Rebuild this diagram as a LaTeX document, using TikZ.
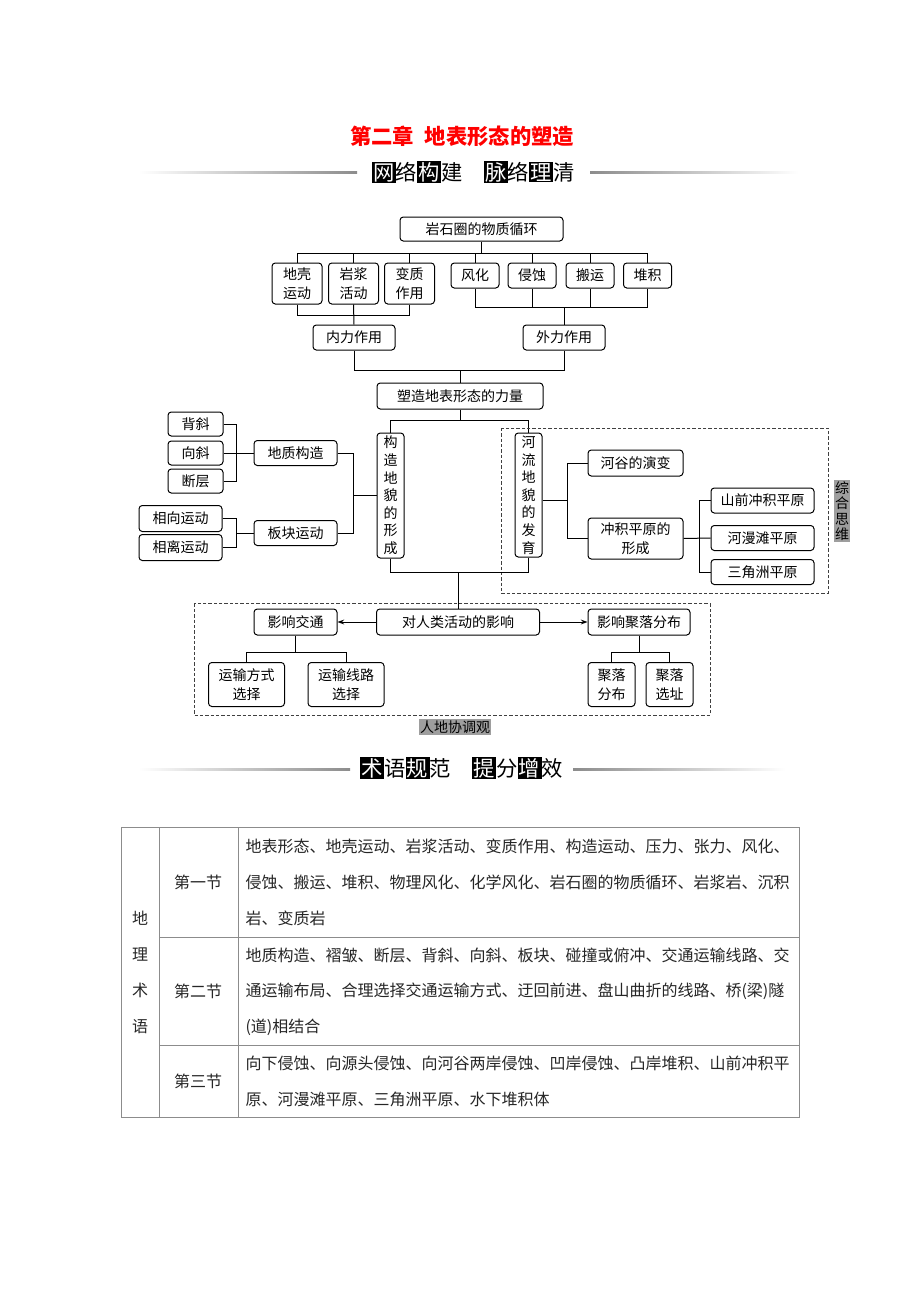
\documentclass[tikz,border=0pt]{standalone}
\usepackage{fontspec}
\setmainfont{Noto Sans CJK SC}
\usetikzlibrary{arrows.meta}

\tikzset{every picture/.style={line width=0.75pt}}
\tikzset{
  sz/.style 2 args={minimum width=#1*0.75pt, minimum height=#2*0.75pt},
  box/.style={draw, rounded corners=2.5pt, inner sep=0pt, align=center, font=\fontsize{10.5}{14}\selectfont},
  vbox/.style={box, font=\fontsize{10.5}{13.2}\selectfont},
  tag/.style={fill=black!38, inner sep=0.8pt, align=center, font=\fontsize{10.5}{11.6}\selectfont},
  dashbox/.style={draw=black!75, dash pattern=on 2.5pt off 1.5pt},
  tline/.style={draw=black!45},
  cell/.style={anchor=west, inner sep=0pt, text=black!85, font=\fontsize{12}{12}\selectfont},
  sect/.style={inner sep=0pt, text=black!85, font=\fontsize{12}{12}\selectfont},
  hdr/.style={inner sep=0pt, font=\fontsize{16}{16}\selectfont},
  tip/.style={-{Stealth[length=5pt,width=3.6pt]}},
}
\newcommand{\inv}[1]{{\setlength{\fboxsep}{1pt}\colorbox{black}{\textcolor{white}{#1}}}}

\begin{document}
\begin{tikzpicture}[x=0.75pt,y=0.75pt,yscale=-1,xscale=1]
\path[use as bounding box, fill=white] (0,0) rectangle (920,1302);

% Headings
\node[hdr, text=red, font=\fontsize{16}{16}\selectfont\bfseries] (title) at (462,136) {第二章\hspace{0.5em}地表形态的塑造};
\node[hdr] (net) at (473,172) {\inv{网}络\inv{构}建\hspace{1em}\inv{脉}络\inv{理}清};
\shade[left color=white, right color=black!45] (139,172) rectangle (357,174);
\shade[left color=black!45, right color=white] (590,172) rectangle (798,174);

% Rock cycle and the two forces
\node[box, sz={163}{24}] (cycle) at (481.5,229) {岩石圈的物质循环};
\node[box, sz={50}{41}] (crust) at (297,283.5) {地壳\\运动};
\node[box, sz={50}{41}] (magma) at (353.5,283.5) {岩浆\\活动};
\node[box, sz={50}{41}] (meta) at (409.5,283.5) {变质\\作用};
\node[box, sz={48}{25}] (weath) at (475,275.5) {风化};
\node[box, sz={48}{25}] (erosion) at (532,275.5) {侵蚀};
\node[box, sz={48}{25}] (transport) at (590,275.5) {搬运};
\node[box, sz={48}{25}] (deposit) at (647.5,275.5) {堆积};
\node[box, sz={82}{25}] (inner) at (354,337.5) {内力作用};
\node[box, sz={82}{25}] (outer) at (564,337.5) {外力作用};
\node[box, sz={166}{26}] (force) at (460,396) {塑造地表形态的力量};

\coordinate (topbar) at (481.5,253);
\draw (cycle.south) -- (topbar);
\draw (crust.north |- topbar) -- (deposit.north |- topbar);
\foreach \n in {crust,magma,meta,weath,erosion,transport,deposit}
  \draw (\n.north) -- (\n.north |- topbar);

\coordinate (inbar) at (354,315);
\draw (crust.south) |- (meta.south |- inbar) -- (meta.south);
\draw (magma.south) -- (inner.north);

\coordinate (outbar) at (564,307);
\draw (weath.south) |- (deposit.south |- outbar) -- (deposit.south);
\draw (erosion.south) -- (erosion.south |- outbar);
\draw (transport.south) -- (transport.south |- outbar);
\draw (outbar) -- (outer.north);

\coordinate (forcebar) at (460,370);
\draw (inner.south) |- (outer.south |- forcebar) -- (outer.south);
\draw (forcebar) -- (force.north);

% Landforms
\node[vbox, sz={27}{125}] (tectonic) at (390.5,495.5) {构\\造\\地\\貌\\的\\形\\成};
\node[vbox, sz={27}{124}] (river) at (528.5,495) {河\\流\\地\\貌\\的\\发\\育};

\coordinate (split) at (460,420);
\draw (force.south) -- (split);
\draw (tectonic.north) |- (river.north |- split) -- (river.north);

% tectonic side
\node[box, sz={83}{25}] (geostruct) at (295.5,453) {地质构造};
\node[box, sz={83}{25}] (plate) at (295.5,533) {板块运动};
\node[box, sz={55}{24}] (anti) at (195.5,424) {背斜};
\node[box, sz={55}{24}] (syn) at (195.5,453) {向斜};
\node[box, sz={55}{24}] (fault) at (195.5,481) {断层};
\node[box, sz={83}{26}] (conv) at (180.5,518.5) {相向运动};
\node[box, sz={83}{26}] (div) at (180.5,547.5) {相离运动};

\coordinate (lj) at (353,495.5);
\draw (geostruct.east) -| (plate.east -| lj) -- (plate.east);
\draw (lj) -- (tectonic.west);
\coordinate (fj) at (236,453);
\draw (anti.east) -| (fault.east -| fj) -- (fault.east);
\draw (syn.east) -- (geostruct.west);
\draw (conv.east) -| (div.east -| fj) -- (div.east);
\draw (fj |- plate) -- (plate.west);

% river side
\node[box, sz={95}{26}] (valley) at (635.5,463) {河谷的演变};
\node[box, sz={95}{41}] (plain) at (635.5,538.5) {冲积平原的\\形成};
\node[box, sz={103}{25}] (piedmont) at (762.5,500.5) {山前冲积平原};
\node[box, sz={103}{25}] (flood) at (762.5,538) {河漫滩平原};
\node[box, sz={103}{25}] (delta) at (762.5,572) {三角洲平原};

\coordinate (rj) at (567,500.5);
\draw (valley.west) -| (plain.west -| rj) -- (plain.west);
\draw (river.east |- rj) -- (rj);
\coordinate (pj) at (699,538);
\draw (piedmont.west) -| (delta.west -| pj) -- (delta.west);
\draw (plain.east) -- (flood.west);

\draw[dashbox] (501,428) rectangle (828,593);
\node[tag] (think) at (842,511) {综\\合\\思\\维};

% Human activities
\node[box, sz={163}{26}] (human) at (458,622) {对人类活动的影响};
\node[box, sz={83}{26}] (traffic) at (295.5,622) {影响交通};
\node[box, sz={102}{26}] (settle) at (639,622) {影响聚落分布};
\node[box, sz={76}{44}] (mode) at (246.5,684.5) {运输方式\\选择};
\node[box, sz={76}{44}] (route) at (346,684.5) {运输线路\\选择};
\node[box, sz={47}{44}] (spread) at (611.5,684.5) {聚落\\分布};
\node[box, sz={47}{44}] (site) at (669.5,684.5) {聚落\\选址};

\coordinate (merge) at (459,572);
\draw (tectonic.south) |- (river.south |- merge) -- (river.south);
\draw (human.north |- merge) -- (human.north);
\draw[tip] (human.west) -- (traffic.east);
\draw[tip] (human.east) -- (settle.west);

\coordinate (tj) at (296,652.5);
\draw (traffic.south) -- (traffic.south |- tj);
\draw (mode.north) |- (route.north |- tj) -- (route.north);
\coordinate (sj) at (640,652.5);
\draw (settle.south) -- (settle.south |- sj);
\draw (spread.north) |- (site.north |- sj) -- (site.north);

\draw[dashbox] (194,603.5) rectangle (710,715);
\node[tag] (harmony) at (455,727) {人地协调观};

% Terms
\node[hdr] (terms) at (461.5,768) {\inv{术}语\inv{规}范\hspace{1em}\inv{提}分\inv{增}效};
\shade[left color=white, right color=black!45] (139,768) rectangle (350,770);
\shade[left color=black!45, right color=white] (573,768) rectangle (785,770);

\draw[tline] (121,827) rectangle (799,1117);
\draw[tline] (159,827) -- (159,1117);
\draw[tline] (238,827) -- (238,1117);
\draw[tline] (159,937) -- (799,937);
\draw[tline] (159,1045) -- (799,1045);

\node[sect, align=center, font=\fontsize{12}{27}\selectfont] (geo) at (140,972.5) {地\\理\\术\\语};
\node[sect] (sec1) at (198,882) {第一节};
\node[sect] (sec2) at (198,991) {第二节};
\node[sect] (sec3) at (198,1081) {第三节};

\node[cell] (r1a) at (245,846) {地表形态、地壳运动、岩浆活动、变质作用、构造运动、压力、张力、风化、};
\node[cell] (r1b) at (245,882) {侵蚀、搬运、堆积、物理风化、化学风化、岩石圈的物质循环、岩浆岩、沉积};
\node[cell] (r1c) at (245,918) {岩、变质岩};
\node[cell] (r2a) at (245,955) {地质构造、褶皱、断层、背斜、向斜、板块、碰撞或俯冲、交通运输线路、交};
\node[cell] (r2b) at (245,991) {通运输布局、合理选择交通运输方式、迂回前进、盘山曲折的线路、桥(梁)隧};
\node[cell] (r2c) at (245,1027) {(道)相结合};
\node[cell] (r3a) at (245,1063) {向下侵蚀、向源头侵蚀、向河谷两岸侵蚀、凹岸侵蚀、凸岸堆积、山前冲积平};
\node[cell] (r3b) at (245,1099) {原、河漫滩平原、三角洲平原、水下堆积体};

\end{tikzpicture}
\end{document}
